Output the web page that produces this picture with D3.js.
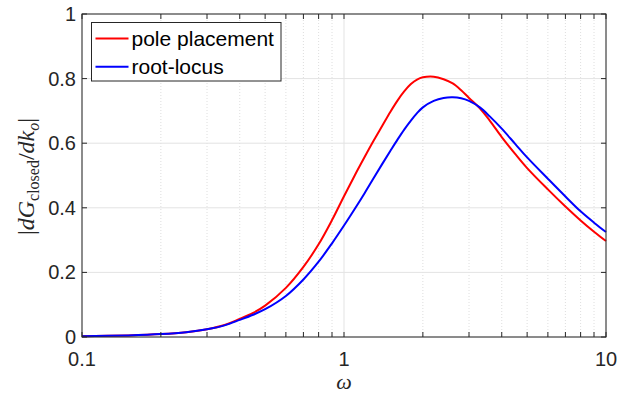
<!DOCTYPE html>
<html>
<head>
<meta charset="utf-8">
<script src="https://cdn.jsdelivr.net/npm/d3@7"></script>
<style>
  html, body { margin: 0; padding: 0; background: #fff; }
  svg { display: block; }
</style>
</head>
<body>
<svg id="chart" width="630" height="398"></svg>
<script>
// Frequency grid (rad/s) and sensitivity magnitudes of the closed loop
const omega = [0.1, 0.15, 0.2, 0.25, 0.3, 0.35, 0.4, 0.45, 0.5, 0.6, 0.7, 0.8, 0.9,
  1.0, 1.1, 1.2, 1.3, 1.4, 1.5, 1.6, 1.7, 1.8, 1.9, 2.0, 2.2, 2.4, 2.6, 2.8, 3.0, 3.3, 3.6,
  4, 4.5, 5, 6, 7, 8, 9, 10];
const polePlacement = [0.002, 0.005, 0.009, 0.015, 0.024, 0.037, 0.056, 0.0745, 0.097, 0.152, 0.217, 0.287, 0.362,
  0.436, 0.501, 0.558, 0.609, 0.654, 0.696, 0.732, 0.761, 0.783, 0.797, 0.804, 0.806, 0.798, 0.785, 0.764, 0.740, 0.708, 0.670,
  0.619, 0.567, 0.523, 0.457, 0.404, 0.361, 0.326, 0.297];
const rootLocus = [0.002, 0.005, 0.009, 0.015, 0.024, 0.036, 0.053, 0.069, 0.086, 0.127, 0.178, 0.233, 0.290,
  0.345, 0.397, 0.446, 0.493, 0.536, 0.575, 0.611, 0.643, 0.670, 0.693, 0.711, 0.731, 0.740, 0.742, 0.739, 0.731, 0.711, 0.683,
  0.645, 0.598, 0.556, 0.490, 0.435, 0.389, 0.354, 0.325];

const xMajor = [0.1, 1, 10];
const xMajorLabels = ["0.1", "1", "10"];
const xMinor = [0.2, 0.3, 0.4, 0.5, 0.6, 0.7, 0.8, 0.9, 2, 3, 4, 5, 6, 7, 8, 9];
const yTicks = [0, 0.2, 0.4, 0.6, 0.8, 1];
const yTickLabels = ["0", "0.2", "0.4", "0.6", "0.8", "1"];

const seriesNames = ["pole placement", "root-locus"];
const seriesColors = ["#ff0000", "#0000ff"];

const svg = d3.select("#chart");
const plotL = 82, plotR = 606, plotT = 14, plotB = 337;
const x = d3.scaleLog().domain([0.1, 10]).range([plotL, plotR]);
const y = d3.scaleLinear().domain([0, 1]).range([plotB, plotT]);
const axisColor = "#262626";
const tickFont = "'Liberation Sans', Arial, Helvetica, sans-serif";

// grid
const grid = svg.append("g");
grid.selectAll("line.minor").data(xMinor).join("line")
  .attr("x1", d => x(d)).attr("x2", d => x(d))
  .attr("y1", plotT).attr("y2", plotB)
  .attr("stroke", "#d6d6d6").attr("stroke-width", 0.8)
  .attr("stroke-dasharray", "1,2");
grid.selectAll("line.xmaj").data(xMajor).join("line")
  .attr("x1", d => x(d)).attr("x2", d => x(d))
  .attr("y1", plotT).attr("y2", plotB)
  .attr("stroke", "#e3e3e3").attr("stroke-width", 1);
grid.selectAll("line.ymaj").data(yTicks).join("line")
  .attr("x1", plotL).attr("x2", plotR)
  .attr("y1", d => y(d)).attr("y2", d => y(d))
  .attr("stroke", "#e3e3e3").attr("stroke-width", 1);

// curves
const line = d3.line()
  .x(d => x(d[0])).y(d => y(d[1]))
  .curve(d3.curveCatmullRom.alpha(0.5));
[polePlacement, rootLocus].forEach((vals, i) => {
  svg.append("path")
    .datum(omega.map((w, k) => [w, vals[k]]))
    .attr("d", line)
    .attr("fill", "none")
    .attr("stroke", seriesColors[i])
    .attr("stroke-width", 2);
});

// axes box with inward ticks on all sides
const axes = svg.append("g").attr("stroke", axisColor).attr("stroke-width", 1);
const tl = 5;
const allX = xMajor.concat(xMinor);
allX.forEach(v => {
  const px = x(v);
  axes.append("line").attr("x1", px).attr("x2", px).attr("y1", plotB).attr("y2", plotB - tl);
  axes.append("line").attr("x1", px).attr("x2", px).attr("y1", plotT).attr("y2", plotT + tl);
});
yTicks.forEach(v => {
  const py = y(v);
  axes.append("line").attr("x1", plotL).attr("x2", plotL + tl).attr("y1", py).attr("y2", py);
  axes.append("line").attr("x1", plotR).attr("x2", plotR - tl).attr("y1", py).attr("y2", py);
});
axes.append("rect").attr("x", plotL).attr("y", plotT)
  .attr("width", plotR - plotL).attr("height", plotB - plotT)
  .attr("fill", "none");

// tick labels
svg.selectAll("text.xt").data(xMajor).join("text")
  .attr("x", d => x(d)).attr("y", 366)
  .attr("text-anchor", "middle")
  .attr("font-family", tickFont).attr("font-size", 20)
  .attr("fill", axisColor)
  .text((d, i) => xMajorLabels[i]);
svg.selectAll("text.yt").data(yTicks).join("text")
  .attr("x", 76).attr("y", d => y(d))
  .attr("dy", "0.35em")
  .attr("text-anchor", "end")
  .attr("font-family", tickFont).attr("font-size", 20)
  .attr("fill", axisColor)
  .text((d, i) => yTickLabels[i]);

// axis titles
const serif = "'Liberation Serif', 'Times New Roman', serif";
svg.append("text")
  .attr("x", x(1)).attr("y", 389)
  .attr("text-anchor", "middle")
  .attr("font-family", serif).attr("font-style", "italic").attr("font-size", 22)
  .attr("fill", axisColor)
  .text("ω");

const yl = svg.append("text")
  .attr("transform", `translate(34,${(plotT + plotB) / 2 + 1}) rotate(-90)`)
  .attr("text-anchor", "middle")
  .attr("font-family", serif).attr("font-size", 24)
  .attr("fill", axisColor);
yl.append("tspan").text("|");
yl.append("tspan").attr("font-style", "italic").text("dG");
yl.append("tspan").attr("font-size", 16).attr("dy", 5).text("closed");
yl.append("tspan").attr("dy", -5).text("/");
yl.append("tspan").attr("font-style", "italic").text("dk");
yl.append("tspan").attr("font-style", "italic").attr("font-size", 16).attr("dy", 5).text("o");
yl.append("tspan").attr("dy", -5).text("|");

// legend
const lg = svg.append("g");
lg.append("rect").attr("x", 91.5).attr("y", 22.5).attr("width", 189.5).attr("height", 58.5)
  .attr("fill", "#fff").attr("stroke", axisColor).attr("stroke-width", 1);
seriesNames.forEach((name, i) => {
  const ly = 38.5 + i * 28.3;
  lg.append("line").attr("x1", 95.5).attr("x2", 128.5).attr("y1", ly).attr("y2", ly)
    .attr("stroke", seriesColors[i]).attr("stroke-width", 2);
  lg.append("text").attr("x", 131.5).attr("y", ly).attr("dy", "0.35em")
    .attr("font-family", tickFont).attr("font-size", 21)
    .attr("fill", "#000")
    .text(name);
});
</script>
</body>
</html>
